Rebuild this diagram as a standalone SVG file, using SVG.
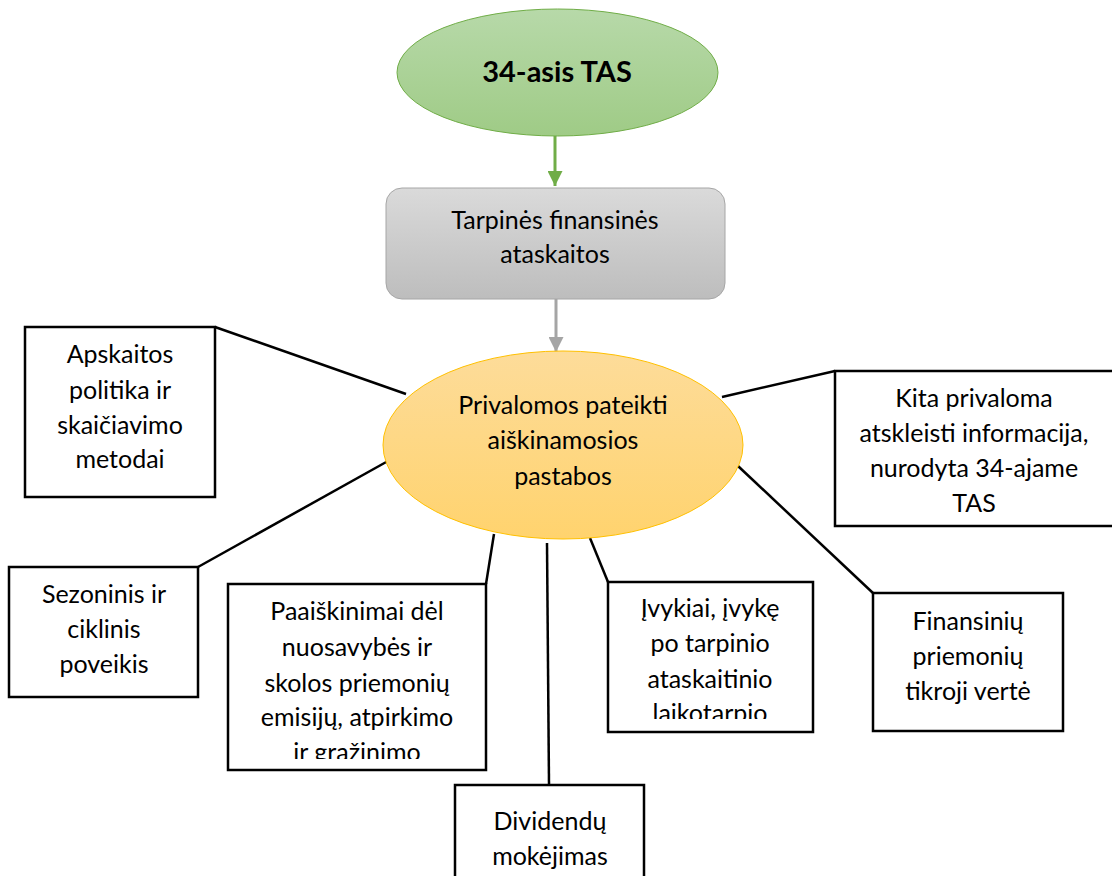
<svg xmlns="http://www.w3.org/2000/svg" width="1112" height="876" viewBox="0 0 1112 876">
  <defs>
    <linearGradient id="gGreen" x1="0" y1="0" x2="0" y2="1">
      <stop offset="0" stop-color="#b7d9a9"/>
      <stop offset="1" stop-color="#9fcb86"/>
    </linearGradient>
    <linearGradient id="gGray" x1="0" y1="0" x2="0" y2="1">
      <stop offset="0" stop-color="#dadada"/>
      <stop offset="1" stop-color="#bdbdbd"/>
    </linearGradient>
    <linearGradient id="gGold" x1="0" y1="0" x2="0" y2="1">
      <stop offset="0" stop-color="#fddc9a"/>
      <stop offset="1" stop-color="#ffd36e"/>
    </linearGradient>
    <marker id="arrGreen" viewBox="0 0 10 10" refX="10" refY="5" markerWidth="5" markerHeight="5" markerUnits="strokeWidth" orient="auto">
      <path d="M0,0 L10,5 L0,10 z" fill="#70ad47"/>
    </marker>
    <marker id="arrGray" viewBox="0 0 10 10" refX="10" refY="5" markerWidth="5" markerHeight="5" markerUnits="strokeWidth" orient="auto">
      <path d="M0,0 L10,5 L0,10 z" fill="#a5a5a5"/>
    </marker>
    <clipPath id="clipPaa"><rect x="230" y="586" width="254" height="173"/></clipPath>
    <clipPath id="clipIvy"><rect x="610" y="584" width="201" height="135"/></clipPath>
  </defs>
  <style>
    text { font-family: Lato, "Open Sans", "Liberation Sans", sans-serif; font-size: 25px; fill: #000; text-anchor: middle; }
    .title { font-weight: bold; font-size: 29px; }
    .box { fill: #fff; stroke: #000; stroke-width: 2.5; }
    .link { stroke: #000; stroke-width: 2.5; fill: none; }
  </style>

  <rect width="1112" height="876" fill="#fff"/>

  <!-- connectors -->
  <g id="connectors">
    <line x1="555" y1="136" x2="555" y2="186" stroke="#70ad47" stroke-width="3" marker-end="url(#arrGreen)"/>
    <line x1="556" y1="299" x2="556" y2="352" stroke="#a5a5a5" stroke-width="3" marker-end="url(#arrGray)"/>
    <line class="link" x1="215" y1="327" x2="406" y2="394"/>
    <line class="link" x1="198" y1="567" x2="388" y2="461"/>
    <line class="link" x1="486" y1="584" x2="494" y2="534"/>
    <line class="link" x1="547" y1="543" x2="549" y2="785"/>
    <line class="link" x1="590" y1="538" x2="608" y2="582"/>
    <line class="link" x1="722" y1="397" x2="835" y2="371"/>
    <line class="link" x1="738" y1="466" x2="873" y2="593"/>
  </g>

  <g id="node-tas34">
    <ellipse cx="557.5" cy="72.5" rx="160.5" ry="63.5" fill="url(#gGreen)" stroke="#70ad47" stroke-width="1"/>
    <text class="title" x="557" y="82">34-asis TAS</text>
  </g>

  <g id="node-tarpines">
    <rect x="386" y="188" width="339" height="111" rx="16" fill="url(#gGray)" stroke="#a6a6a6" stroke-width="1"/>
    <text x="555" y="229">Tarpinės finansinės</text>
    <text x="555" y="263">ataskaitos</text>
  </g>

  <g id="node-pastabos">
    <ellipse cx="563" cy="445" rx="180" ry="94" fill="url(#gGold)" stroke="#ffc000" stroke-width="1"/>
    <text x="563" y="414">Privalomos pateikti</text>
    <text x="563" y="449">aiškinamosios</text>
    <text x="563" y="485">pastabos</text>
  </g>

  <g id="node-apskaitos">
    <rect class="box" x="25" y="327" width="190" height="170"/>
    <text x="120" y="363">Apskaitos</text>
    <text x="120" y="399">politika ir</text>
    <text x="120" y="434">skaičiavimo</text>
    <text x="120" y="468">metodai</text>
  </g>

  <g id="node-sezoninis">
    <rect class="box" x="9" y="567" width="189" height="130"/>
    <text x="104" y="603">Sezoninis ir</text>
    <text x="104" y="638">ciklinis</text>
    <text x="104" y="673">poveikis</text>
  </g>

  <g id="node-paaiskinimai">
    <rect class="box" x="228" y="584" width="258" height="186"/>
    <g clip-path="url(#clipPaa)">
      <text x="357" y="620">Paaiškinimai dėl</text>
      <text x="357" y="656">nuosavybės ir</text>
      <text x="357" y="692">skolos priemonių</text>
      <text x="357" y="726">emisijų, atpirkimo</text>
      <text x="357" y="761">ir gražinimo</text>
    </g>
  </g>

  <g id="node-dividendu">
    <rect class="box" x="455" y="785" width="189" height="100"/>
    <text x="550" y="830">Dividendų</text>
    <text x="550" y="865">mokėjimas</text>
  </g>

  <g id="node-ivykiai">
    <rect class="box" x="608" y="582" width="205" height="150"/>
    <g clip-path="url(#clipIvy)">
      <text x="710" y="617">Įvykiai, įvykę</text>
      <text x="710" y="652">po tarpinio</text>
      <text x="710" y="688">ataskaitinio</text>
      <text x="710" y="722">laikotarpio</text>
    </g>
  </g>

  <g id="node-kita">
    <rect class="box" x="835" y="371" width="280" height="155"/>
    <text x="974" y="407">Kita privaloma</text>
    <text x="974" y="442">atskleisti informacija,</text>
    <text x="974" y="477">nurodyta 34-ajame</text>
    <text x="974" y="512">TAS</text>
  </g>

  <g id="node-finansiniu">
    <rect class="box" x="873" y="593" width="190" height="138"/>
    <text x="968" y="630">Finansinių</text>
    <text x="968" y="665">priemonių</text>
    <text x="968" y="700">tikroji vertė</text>
  </g>
</svg>
